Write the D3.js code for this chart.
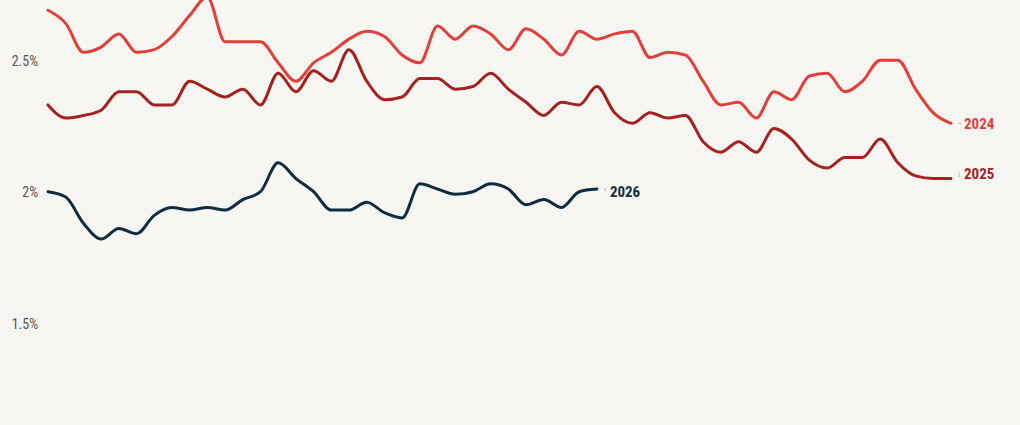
<!DOCTYPE html>
<html>
<head>
<meta charset="utf-8">
<script src="https://cdn.jsdelivr.net/npm/d3@7"></script>
<style>
  html, body { margin: 0; padding: 0; background: #f8f6f3; }
  svg { display: block; }
  .tick-label { font-family: "Roboto Condensed", "Liberation Sans Narrow", "DejaVu Sans Condensed", "Roboto", sans-serif; font-size: 14px; fill: #555; }
  .series-label { font-family: "Roboto Condensed", "Liberation Sans Narrow", "DejaVu Sans Condensed", "Roboto", sans-serif; font-size: 15px; font-weight: bold; }
</style>
</head>
<body>
<svg id="chart" width="1020" height="425"></svg>
<script>
// Weekly values (%)
const weeks = d3.range(1, 53);
const series2024 = [2.69,2.64,2.53,2.55,2.60,2.53,2.54,2.59,2.67,2.74,2.57,2.57,2.57,2.49,2.42,2.49,2.53,2.58,2.61,2.59,2.52,2.49,2.63,2.58,2.63,2.60,2.54,2.62,2.58,2.52,2.61,2.58,2.60,2.61,2.51,2.53,2.52,2.42,2.33,2.34,2.28,2.38,2.35,2.44,2.45,2.38,2.42,2.50,2.50,2.39,2.30,2.26];
const series2025 = [2.33,2.28,2.29,2.31,2.38,2.38,2.33,2.33,2.42,2.39,2.36,2.39,2.33,2.45,2.38,2.46,2.42,2.54,2.42,2.35,2.36,2.43,2.43,2.39,2.40,2.45,2.39,2.34,2.29,2.34,2.33,2.40,2.30,2.26,2.30,2.28,2.29,2.19,2.15,2.19,2.15,2.24,2.20,2.12,2.09,2.13,2.13,2.20,2.11,2.06,2.05,2.05];
const series2026 = [2.00,1.98,1.88,1.82,1.86,1.84,1.91,1.94,1.93,1.94,1.93,1.97,2.00,2.11,2.05,2.00,1.93,1.93,1.96,1.92,1.90,2.03,2.01,1.99,2.00,2.03,2.01,1.95,1.97,1.94,2.00,2.01];
const yTicks = [1.5, 2, 2.5];
const tickLabels = ["1.5%", "2%", "2.5%"];
const seriesNames = ["2024", "2025", "2026"];
const seriesColors = ["#e0403a", "#a3221f", "#0f2d3f"];

const svg = d3.select("#chart");
const x = d3.scaleLinear().domain([1, 52]).range([48, 951]);
const y = d3.scaleLinear().domain([1.5, 2.5]).range([323.2, 60.2]);

// y axis labels
const axis = d3.axisLeft(y).tickValues(yTicks).tickFormat((d, i) => tickLabels[i]).tickSize(0).tickPadding(0);
const g = svg.append("g").attr("transform", "translate(38,0)").call(axis);
g.select(".domain").remove();
g.selectAll("text").attr("class", "tick-label").attr("dy", "0.35em");

const allSeries = [series2024, series2025, series2026];
const line = d3.line().x((d, i) => x(weeks[i])).y(d => y(d)).curve(d3.curveMonotoneX);

allSeries.forEach((s, k) => {
  svg.append("path")
    .attr("d", line(s))
    .attr("fill", "none")
    .attr("stroke", seriesColors[k])
    .attr("stroke-width", 3)
    .attr("stroke-linejoin", "round")
    .attr("stroke-linecap", "round");
});

// end labels with small leaders
const labelOffsets = [0, -5, 3];
allSeries.forEach((s, k) => {
  const xe = x(weeks[s.length - 1]);
  const ye = y(s[s.length - 1]);
  const ly = ye + labelOffsets[k];
  if (k === 0) {
    svg.append("line").attr("x1", xe + 7).attr("x2", xe + 10).attr("y1", ye).attr("y2", ye)
      .attr("stroke", "#aab8c2").attr("stroke-width", 1);
  } else {
    svg.append("line").attr("x1", xe + 8).attr("x2", xe + 8).attr("y1", Math.min(ye, ly) - 1).attr("y2", Math.max(ye, ly) - 1)
      .attr("stroke", "#aab8c2").attr("stroke-width", 1);
  }
  svg.append("text")
    .attr("class", "series-label")
    .attr("x", xe + 13)
    .attr("y", ly)
    .attr("dy", "0.35em")
    .attr("fill", seriesColors[k])
    .text(seriesNames[k]);
});
</script>
</body>
</html>
